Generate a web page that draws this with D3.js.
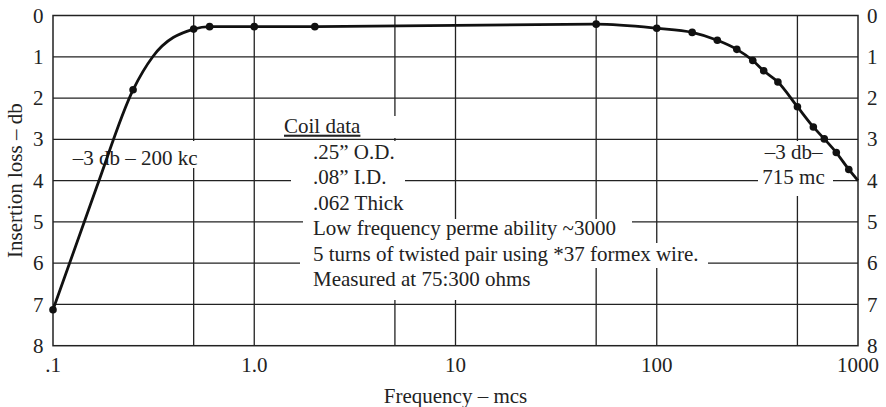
<!DOCTYPE html>
<html>
<head>
<meta charset="utf-8">
<script src="https://cdn.jsdelivr.net/npm/d3@7"></script>
<style>
  html, body { margin: 0; padding: 0; background: #fff; }
  svg { display: block; }
  text { font-family: "Liberation Serif", "Times New Roman", serif; fill: #222; }
</style>
</head>
<body>
<svg id="chart" width="886" height="407"></svg>
<script>
// ---- data ----
const markerFreq = [0.1, 0.25, 0.5, 0.6, 1, 2, 50, 100, 150, 200, 250, 300, 340, 400, 500, 600, 680, 780, 900];
const markerLoss = [7.13, 1.8, 0.33, 0.27, 0.27, 0.27, 0.21, 0.31, 0.41, 0.60, 0.82, 1.09, 1.34, 1.61, 2.21, 2.70, 2.99, 3.32, 3.73];
// unmarked points the curve also passes through
const curveOnlyFreq = [0.165, 0.313, 1000];
const curveOnlyLoss = [4.15, 1.0, 4.0];

const gridFreq = [0.5, 1, 5, 10, 50, 100, 500];
const gridLoss = [1, 2, 3, 4, 5, 6, 7];
const xTickFreq = [0.1, 1, 10, 100, 1000];
const xTickLabels = [".1", "1.0", "10", "100", "1000"];
const yTicks = [0, 1, 2, 3, 4, 5, 6, 7, 8];

const xTitle = "Frequency – mcs";
const yTitle = "Insertion loss – db";
const leftNote = "–3 db – 200 kc";
const rightNote = ["–3 db–", "715 mc"];
const coilTitle = "Coil data";
const coilLines = [".25” O.D.", ".08” I.D.", ".062 Thick",
  "Low frequency perme ability ~3000",
  "5 turns of twisted pair using *37 formex wire.",
  "Measured at 75:300 ohms"];

// ---- layout ----
const L = 53, R = 858, T = 15.5, B = 345.7;
const FS = 21;
const ink = "#222";

const svg = d3.select("#chart");
const x = d3.scaleLog().domain([0.1, 1000]).range([L, R]);
const y = d3.scaleLinear().domain([0, 8]).range([T, B]);

// gridlines
const grid = svg.append("g").attr("stroke", ink).attr("stroke-width", 1.3);
grid.selectAll("line.v").data(gridFreq).join("line").attr("class", "v")
  .attr("x1", d => x(d)).attr("x2", d => x(d)).attr("y1", T).attr("y2", B);
grid.selectAll("line.h").data(gridLoss).join("line").attr("class", "h")
  .attr("x1", L).attr("x2", R).attr("y1", d => y(d)).attr("y2", d => y(d));
svg.append("rect").attr("x", L).attr("y", T).attr("width", R - L).attr("height", B - T)
  .attr("fill", "none").attr("stroke", ink).attr("stroke-width", 1.5);

// white masks behind annotation text
const masks = [
  [66, 141, 205, 168],   // -3 db - 200 kc
  [276, 116, 400, 138],  // Coil data
  [300, 141, 405, 164],
  [291, 164, 405, 190],
  [300, 190, 410, 219],
  [303, 219, 632, 243],
  [300, 243, 708, 268],
  [300, 268, 545, 300],
  [758, 141, 833, 196]   // right note
];
svg.append("g").selectAll("rect").data(masks).join("rect")
  .attr("x", d => d[0]).attr("y", d => d[1])
  .attr("width", d => d[2] - d[0]).attr("height", d => d[3] - d[1])
  .attr("fill", "#fff");

// tick labels
svg.append("g").selectAll("text").data(yTicks).join("text")
  .attr("x", L - 9.5).attr("y", d => y(d)).attr("dy", "0.34em")
  .attr("text-anchor", "end").attr("font-size", FS).text(d => d);
svg.append("g").selectAll("text").data(yTicks).join("text")
  .attr("x", R + 9).attr("y", d => y(d)).attr("dy", "0.34em")
  .attr("text-anchor", "start").attr("font-size", FS).text(d => d);
svg.append("g").selectAll("text").data(xTickFreq).join("text")
  .attr("x", d => x(d)).attr("y", 372)
  .attr("text-anchor", "middle").attr("font-size", FS).text((d, i) => xTickLabels[i]);

// axis titles
svg.append("text").attr("x", (L + R) / 2).attr("y", 402.5)
  .attr("text-anchor", "middle").attr("font-size", FS).text(xTitle);
svg.append("text").attr("transform", `translate(21.5,${(T + B) / 2}) rotate(-90)`)
  .attr("text-anchor", "middle").attr("font-size", FS).text(yTitle);

// annotations
svg.append("text").attr("x", 72.7).attr("y", 165).attr("font-size", FS).text(leftNote);
svg.append("text").attr("x", 284).attr("y", 132.7).attr("font-size", FS)
  .attr("text-decoration", "underline").text(coilTitle);
const coilBase = [159.3, 184.3, 210, 235.3, 260.7, 286];
svg.append("g").selectAll("text").data(coilLines).join("text")
  .attr("x", 313).attr("y", (d, i) => coilBase[i]).attr("font-size", FS).text(d => d);
svg.append("g").selectAll("text").data(rightNote).join("text")
  .attr("x", 793.5).attr("y", (d, i) => [159.3, 184.3][i])
  .attr("text-anchor", "middle").attr("font-size", FS).text(d => d);

// curve
const curvePts = markerFreq.map((f, i) => [f, markerLoss[i]])
  .concat(curveOnlyFreq.map((f, i) => [f, curveOnlyLoss[i]]))
  .sort((a, b) => a[0] - b[0]);
const line = d3.line().x(d => x(d[0])).y(d => y(d[1])).curve(d3.curveMonotoneX);
svg.append("path").datum(curvePts).attr("d", line)
  .attr("fill", "none").attr("stroke", "#111").attr("stroke-width", 2.8)
  .attr("stroke-linejoin", "round");
svg.append("g").selectAll("circle").data(markerFreq).join("circle")
  .attr("cx", d => x(d)).attr("cy", (d, i) => y(markerLoss[i])).attr("r", 3.8)
  .attr("fill", "#111");
</script>
</body>
</html>
